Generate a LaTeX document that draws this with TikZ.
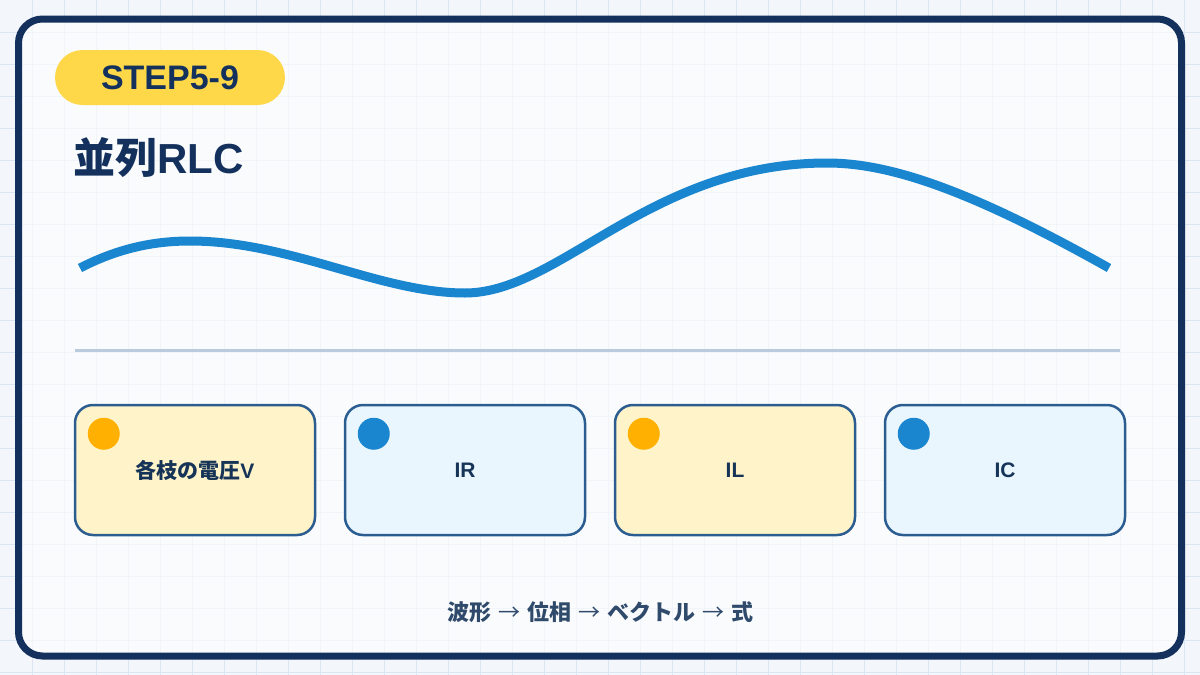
\documentclass[tikz,border=0pt]{standalone}
\usepackage{fontspec}
\setmainfont{Liberation Sans}
\newfontfamily\jp{Noto Sans CJK JP}
\definecolor{navy}{HTML}{13315C}
\definecolor{pagebg}{HTML}{F3F6FB}
\definecolor{gridcol}{HTML}{DCE5F2}
\definecolor{badgeyellow}{HTML}{FFD84A}
\definecolor{waveblue}{HTML}{1A86CF}
\definecolor{sepline}{HTML}{B9CBDD}
\definecolor{cardedge}{HTML}{2C5D90}
\definecolor{cardyellow}{HTML}{FFF4C9}
\definecolor{cardblue}{HTML}{EAF6FE}
\definecolor{dotorange}{HTML}{FFB000}
\definecolor{cardtext}{HTML}{163457}
\definecolor{flowcol}{HTML}{2F4A6B}
\tikzset{
  gridline/.style={gridcol,line width=1pt},
  badge/.style={fill=badgeyellow,rounded corners=27.5pt,minimum width=230pt,minimum height=55pt,
    text=navy,font=\fontsize{34}{40}\selectfont\bfseries},
  card/.style={draw=cardedge,line width=2.5pt,rounded corners=18pt,minimum width=240pt,
    minimum height=130pt,text=cardtext,font=\fontsize{21}{25}\selectfont\bfseries},
}
\newcommand\flowarrow{\hspace{7pt}{\mdseries →}\hspace{7pt}}
\begin{document}
\begin{tikzpicture}[x=1pt,y=-1pt]
\useasboundingbox (0,0) rectangle (1200,675);
\fill[pagebg] (0,0) rectangle (1200,675);
\foreach \x in {32,64,...,1184}
  \draw[gridline] (\x,0) -- (\x,675);
\foreach \y in {32,64,...,672}
  \draw[gridline] (0,\y) -- (1200,\y);

% frame
\draw[navy,line width=7pt,fill=white,fill opacity=0.6,rounded corners=24pt] (18.5,19) rectangle (1181.5,656);

\node[badge] (stepbadge) at (170,77.5) {STEP5-9};
\node[anchor=base west,text=navy,font=\fontsize{42}{48}\selectfont\bfseries] (title) at (70,173) {{\jp 並列}RLC};

% waveform
\draw[waveblue,line width=9pt] (80,268) .. controls (115,250) and (150,241) .. (190,241)
  .. controls (290,241) and (380,293) .. (465,293)
  .. controls (560,293) and (650,163) .. (827,163)
  .. controls (890,163) and (970,190) .. (1109,268);

\draw[sepline,line width=3pt] (75,350) -- (1120,350);

\node[card,fill=cardyellow] (cardV) at (195,470) {{\jp 各枝の電圧}V};
\node[card,fill=cardblue] (cardR) at (465,470) {IR};
\node[card,fill=cardyellow] (cardL) at (735,470) {IL};
\node[card,fill=cardblue] (cardC) at (1005,470) {IC};

\foreach \c/\col in {cardV/dotorange,cardR/waveblue,cardL/dotorange,cardC/waveblue}
  \fill[\col] (\c.north west) ++(30,30) circle (16pt);

\node[text=flowcol,font=\fontsize{22}{26}\selectfont\bfseries\jp] (flow) at (600,612)
  {波形\flowarrow 位相\flowarrow ベクトル\flowarrow 式};
\end{tikzpicture}
\end{document}
